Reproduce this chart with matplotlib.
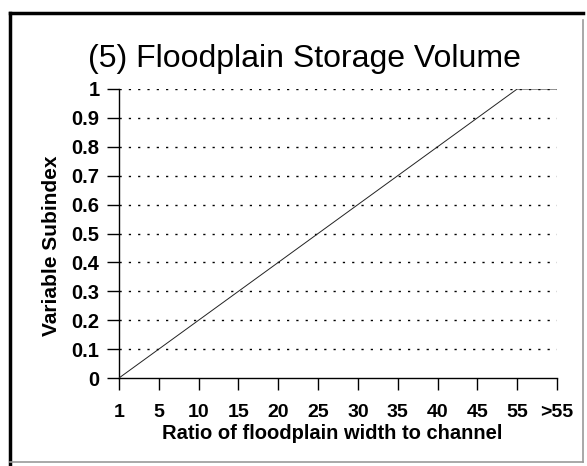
import matplotlib
matplotlib.use("Agg")
import matplotlib.pyplot as plt
from matplotlib.lines import Line2D

categories = ["1", "5", "10", "15", "20", "25", "30", "35", "40", "45", "55", ">55"]
subindex = [0.0, 0.1, 0.2, 0.3, 0.4, 0.5, 0.6, 0.7, 0.8, 0.9, 1.0, 1.0]
y_ticks = [0, 0.1, 0.2, 0.3, 0.4, 0.5, 0.6, 0.7, 0.8, 0.9, 1]
y_tick_labels = ["0", "0.1", "0.2", "0.3", "0.4", "0.5", "0.6", "0.7", "0.8", "0.9", "1"]

plt.rcParams['font.family'] = ['Liberation Sans', 'DejaVu Sans']

W, H = 587, 466
fig = plt.figure(figsize=(W / 100, H / 100), dpi=100)
fig.patch.set_facecolor("white")

ax = fig.add_axes([119 / W, 1 - 378 / H, (557 - 119) / W, (378 - 89) / H])
x = list(range(len(categories)))
ax.plot(x, subindex, color="#222222", lw=0.7, solid_capstyle="butt", zorder=3)

ax.set_xlim(0, len(categories) - 1)
ax.set_ylim(0, 1)
ax.set_xticks(x)
ax.set_xticklabels(categories, fontsize=14, fontweight="bold")
ax.set_yticks(y_ticks)
ax.set_yticklabels(y_tick_labels, fontsize=14.5, fontweight="bold")
ax.tick_params(axis="both", direction="out", length=8.5, width=1.0, color="black")
ax.tick_params(axis="x", pad=10)
ax.tick_params(axis="y", pad=5.5)

for s in ["top", "right"]:
    ax.spines[s].set_visible(False)
for s in ["left", "bottom"]:
    ax.spines[s].set_color("black")
    ax.spines[s].set_linewidth(1.0)

for yv in y_ticks[1:]:
    ax.axhline(yv, color="black", lw=1.0, linestyle=(0, (1.6, 5.1)), zorder=1)

fig.text(332.5 / W, 1 - 439 / H, "Ratio of floodplain width to channel",
         fontsize=14.5, fontweight="bold", ha="center", va="baseline")
fig.text(52 / W, 1 - 245.5 / H, "Variable Subindex", fontsize=15, fontweight="bold",
         rotation=90, ha="center", va="center")

fig.text(304 / W, 1 - 67 / H, "(5) Floodplain Storage Volume", fontsize=23,
         ha="center", va="baseline")

# frame around the chart
fig.add_artist(Line2D([10 / W, 10 / W], [1 - 13 / H, 1 - 466 / H], color="black", lw=2.5))
fig.add_artist(Line2D([10 / W, 583 / W], [1 - 13 / H, 1 - 13 / H], color="black", lw=2.5))
fig.add_artist(Line2D([583 / W, 583 / W], [1 - 20 / H, 1 - 462 / H], color="#999999", lw=1.2))
fig.add_artist(Line2D([10 / W, 583 / W], [1 - 462 / H, 1 - 462 / H], color="#999999", lw=1.2))

fig.savefig("out.png", dpi=100)
